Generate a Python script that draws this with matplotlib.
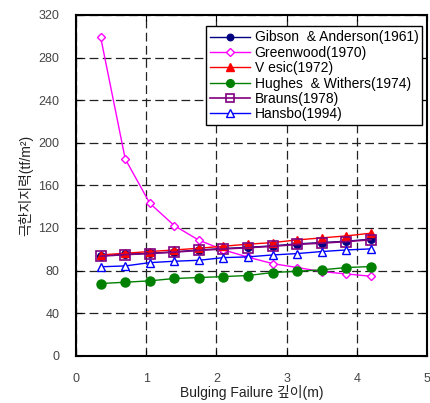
import matplotlib
matplotlib.use("Agg")
import matplotlib.pyplot as plt

plt.rcParams['font.family'] = ['Liberation Sans', 'Noto Sans CJK KR', 'DejaVu Sans']

# depth of bulging failure (m)
depth = [0.35, 0.70, 1.05, 1.40, 1.75, 2.10, 2.45, 2.80, 3.15, 3.50, 3.85, 4.20]

# ultimate bearing capacity by method (tf/m2)
gibson = [93.8, 95.4, 96.3, 97.6, 99.4, 100.7, 101.9, 103.2, 105.1, 106.3, 107.6, 109.5]
greenwood = [299.0, 184.8, 143.2, 122.2, 108.5, 99.5, 92.6, 86.6, 82.9, 79.1, 76.9, 74.7]
vesic = [94.7, 96.3, 97.9, 99.4, 101.0, 102.9, 104.8, 106.3, 108.8, 110.7, 112.6, 115.1]
hughes = [67.9, 69.1, 70.4, 72.6, 73.5, 74.4, 75.4, 78.2, 79.4, 80.7, 82.9, 83.8]
brauns = [93.5, 95.0, 96.0, 97.3, 99.0, 100.3, 101.5, 102.8, 104.6, 105.8, 107.2, 109.0]
hansbo = [83.6, 84.4, 87.5, 88.8, 89.7, 92.2, 92.9, 94.7, 96.0, 97.9, 99.4, 100.4]

labels = ["Gibson  & Anderson(1961)", "Greenwood(1970)", "V esic(1972)",
          "Hughes  & Withers(1974)", "Brauns(1978)", "Hansbo(1994)"]

fig = plt.figure(figsize=(4.30, 4.03), dpi=100)
ax = fig.add_axes([0.177, 0.117, 0.816, 0.846])

ax.plot(depth, gibson, color='#000080', marker='o', ms=5.5, lw=1.0, label=labels[0])
ax.plot(depth, greenwood, color='#ff00ff', marker='D', ms=4.5, mfc='white', mew=1.0, lw=1.0, label=labels[1])
ax.plot(depth, vesic, color='#ff0000', marker='^', ms=6, lw=1.0, label=labels[2])
ax.plot(depth, hughes, color='#008000', marker='o', ms=6.5, lw=1.0, label=labels[3])
ax.plot(depth, brauns, color='#800080', marker='s', ms=6.5, mfc='none', mew=1.2, lw=1.2, label=labels[4])
ax.plot(depth, hansbo, color='#0000ff', marker='^', ms=6, mfc='white', mew=1.0, lw=1.0, label=labels[5])

ax.set_xlim(0, 5)
ax.set_ylim(0, 320)
ax.set_xticks(range(0, 6))
ax.set_yticks(range(0, 321, 40))
ax.grid(True, color='#222222', linestyle=(0, (7, 3.5)), linewidth=0.9)
ax.tick_params(direction='in', top=True, right=True, length=4, colors='black',
               labelcolor='#444444', labelsize=9, pad=12)
for s in ax.spines.values():
    s.set_linewidth(1.5)

ax.set_xlabel("Bulging Failure 깊이(m)", fontsize=10, color='#222222', labelpad=0)
ax.set_ylabel("극한지지력(tf/m²)", fontsize=10, color='#222222', labelpad=4)

leg = ax.legend(loc='upper right', bbox_to_anchor=(0.995, 0.975), fontsize=10,
                fancybox=False, framealpha=1, edgecolor='black',
                borderpad=0.3, labelspacing=0.1, handlelength=2.9,
                handletextpad=0.3, borderaxespad=0.2, markerscale=0.85)
leg.get_frame().set_linewidth(1.0)

fig.savefig("out.png", dpi=100)
